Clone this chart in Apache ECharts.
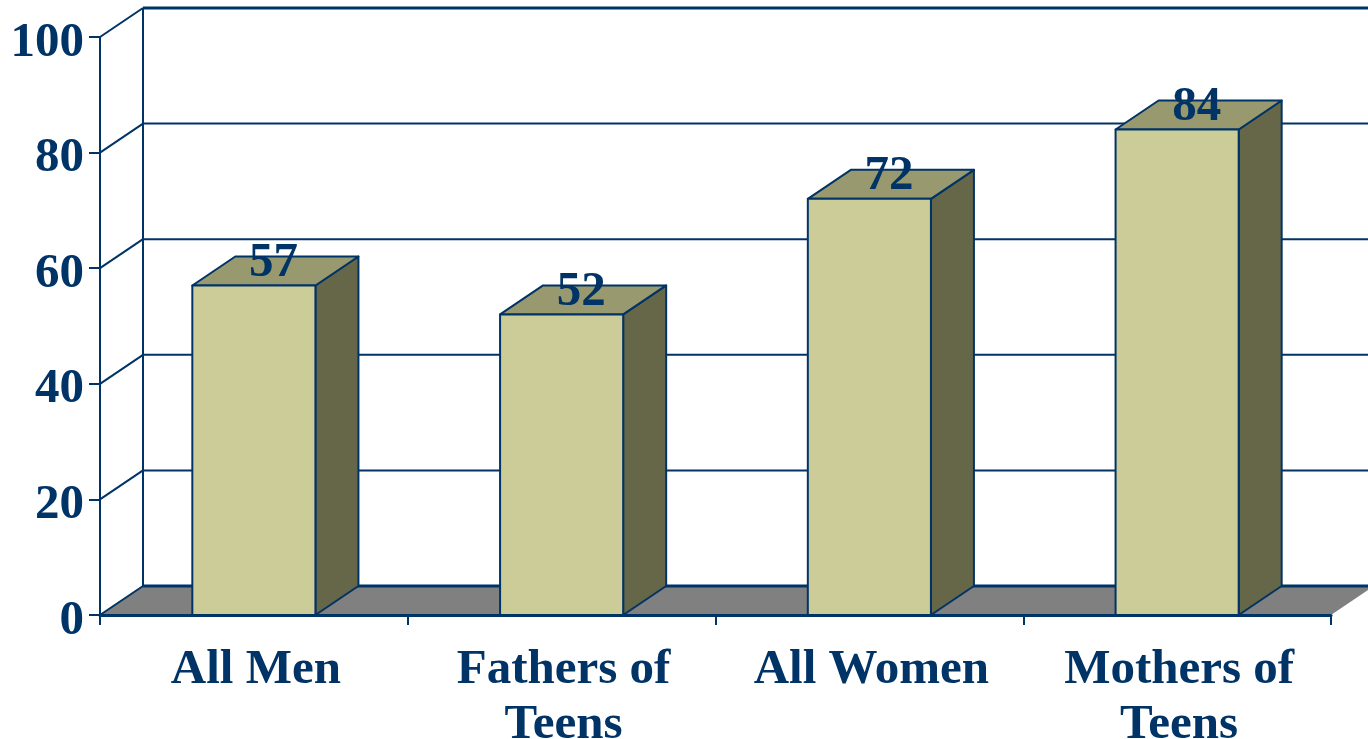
<!DOCTYPE html>
<html>
<head>
<meta charset="utf-8">
<style>
	html, body { margin: 0; padding: 0; background: #fff; overflow: hidden; }
	#chart { width: 1368px; height: 739px; }
</style>
<script src="https://cdn.jsdelivr.net/npm/echarts@6/dist/echarts.min.js"></script>
</head>
<body>
<div id="chart"></div>
<script>
let categories = ['All Men', 'Fathers of\nTeens', 'All Women', 'Mothers of\nTeens'];
let values = [57, 52, 72, 84];
let y_ticks = [0, 20, 40, 60, 80, 100];

let navy = '#003366';
let font = { fontFamily: 'Liberation Serif', fontWeight: 'bold', fontSize: 49, color: navy };
let depth_x = 43; // 3D偏移
let depth_y = 29;

let chart = echarts.init(document.getElementById('chart'));

// 背景墙和地面
function render_wall(params, api) {
	let v = api.value(0);
	let left = api.coord([0, v]);
	left[0] -= api.size([1, 0])[0] / 2;
	let width = api.size([1, 0])[0] * categories.length;
	let back_x = left[0] + depth_x;
	let back_y = left[1] - depth_y;
	let children = [];
	let line = { stroke: navy, lineWidth: v === 100 || v === 0 ? 3 : 2 };
	if (v === 0) {
		children.push({
			type: 'polygon',
			shape: { points: [left, [back_x, back_y], [back_x + width, back_y], [left[0] + width, left[1]]] },
			style: { fill: '#808080', stroke: 'none' },
		});
		// 后墙竖线
		let top = api.coord([0, 100]);
		children.push({
			type: 'line',
			shape: { x1: back_x, y1: back_y, x2: back_x, y2: top[1] - depth_y },
			style: { stroke: navy, lineWidth: 2 },
		});
	}
	children.push({
		type: 'line',
		shape: { x1: left[0], y1: left[1], x2: back_x, y2: back_y },
		style: { stroke: navy, lineWidth: 2 },
	});
	children.push({
		type: 'line',
		shape: { x1: back_x, y1: back_y, x2: back_x + width, y2: back_y },
		style: line,
	});
	return { type: 'group', children: children };
}

// 立体柱
function render_bar(params, api) {
	let top = api.coord([api.value(0), api.value(1)]);
	let base = api.coord([api.value(0), 0]);
	let half = api.size([1, 0])[0] * 0.2;
	let x1 = top[0] - half;
	let x2 = top[0] + half;
	let edge = { stroke: navy, lineWidth: 2, lineJoin: 'round' };
	return {
		type: 'group',
		children: [
			{
				type: 'polygon',
				shape: { points: [[x2, base[1]], [x2 + depth_x, base[1] - depth_y], [x2 + depth_x, top[1] - depth_y], [x2, top[1]]] },
				style: Object.assign({ fill: '#666648' }, edge),
			},
			{
				type: 'polygon',
				shape: { points: [[x1, top[1]], [x1 + depth_x, top[1] - depth_y], [x2 + depth_x, top[1] - depth_y], [x2, top[1]]] },
				style: Object.assign({ fill: '#999970' }, edge),
			},
			{
				type: 'rect',
				shape: { x: x1, y: top[1], width: x2 - x1, height: base[1] - top[1] },
				style: Object.assign({ fill: '#CCCC99' }, edge),
			},
			{
				type: 'text',
				style: {
					x: top[0] + depth_x / 2 - 2,
					y: top[1] - 22,
					text: String(api.value(1)),
					align: 'center',
					verticalAlign: 'middle',
					fill: navy,
					font: 'bold 49px "Liberation Serif"',
				},
			},
		],
	};
}

chart.setOption({
	backgroundColor: '#fff',
	animation: false,
	grid: { left: 100, right: 37, top: 37, bottom: 124, outerBoundsMode: 'none' },
	xAxis: {
		type: 'category',
		data: categories,
		z: 10,
		axisLine: { lineStyle: { color: navy, width: 3 } },
		axisTick: { show: true, length: 10, lineStyle: { color: navy, width: 2 } },
		axisLabel: Object.assign({ margin: 28, lineHeight: 55, interval: 0, padding: [0, 0, 0, 4] }, font),
	},
	yAxis: {
		type: 'value',
		min: 0,
		max: 100,
		interval: 20,
		z: 10,
		splitLine: { show: false },
		axisLine: { show: true, lineStyle: { color: navy, width: 2 } },
		axisTick: { show: true, length: 11, lineStyle: { color: navy, width: 2 } },
		axisLabel: {
			margin: 16,
			formatter: '{a|{value}}',
			rich: { a: Object.assign({ padding: [12, 0, 0, 0] }, font) },
		},
	},
	series: [
		{
			type: 'custom',
			renderItem: render_wall,
			data: y_ticks.map((v) => [v]),
			encode: { y: 0 },
			silent: true,
			z: 1,
		},
		{
			type: 'custom',
			renderItem: render_bar,
			data: values.map((v, i) => [i, v]),
			encode: { x: 0, y: 1 },
			silent: true,
			z: 2,
		},
	],
});
</script>
</body>
</html>
